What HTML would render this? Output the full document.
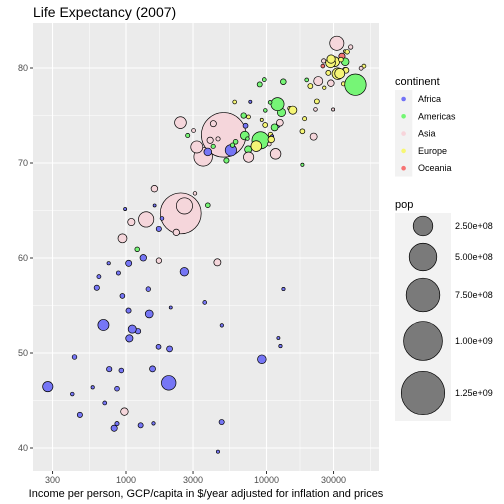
<!DOCTYPE html>
<html><head><meta charset="utf-8"><style>
html,body{margin:0;padding:0;background:#fff}
svg{display:block;font-family:"Liberation Sans",Arial,sans-serif}
</style></head><body>
<svg id="chart" width="504" height="504" viewBox="0 0 504 504">
<text x="33" y="17" font-size="14" fill="#000">Life Expectancy (2007)</text>
<rect x="33" y="23" width="346" height="448" fill="#ebebeb"/>
<g id="grid"></g>
<g id="points"></g>
<g id="axes"></g>
<text x="206" y="497" font-size="11" text-anchor="middle" fill="#000">Income per person, GCP/capita in $/year adjusted for inflation and prices</text>
<g id="legend"></g>
</svg>
<script>
// alphabetical country order; continent codes: 0 Africa,1 Americas,2 Asia,3 Europe,4 Oceania
const continent=[2,3,0,0,1,4,3,2,2,3,
0,1,3,0,1,3,0,0,2,0,
1,0,0,1,2,1,0,0,0,1,
0,3,1,3,3,0,1,1,0,1,
0,0,0,3,3,0,0,3,0,3,
1,0,0,1,1,2,3,3,2,2,
2,2,3,2,3,1,2,2,0,2,
2,2,2,0,0,0,0,0,2,0,
0,0,1,2,3,0,0,2,0,2,
3,4,1,0,0,3,2,2,1,1,
1,2,3,3,1,0,3,0,0,2,
0,3,0,2,3,3,0,0,3,2,
0,0,3,3,2,2,0,2,0,1,
0,3,0,3,1,1,1,2,2,2,
0,0];
const gdp=[974.58,5937.03,6223.37,4797.23,12779.38,34435.37,36126.49,29796.05,1391.25,33692.61,1441.28,3822.14,7446.30,12569.85,9065.80,10680.79,1217.03,430.07,1713.78,2042.10,36319.24,706.02,1704.06,13171.64,4959.11,7006.58,986.15,277.55,3632.56,9645.06,1544.75,14619.22,8948.10,22833.31,35278.42,2082.48,6025.37,6873.26,5581.18,5728.35,12154.09,641.37,690.81,33207.08,30470.02,13206.48,752.75,32170.37,1327.61,27538.41,5186.05,942.65,579.23,1201.64,3548.33,39724.98,18008.94,36180.79,2452.21,3540.65,11605.71,4471.06,40675.99,25523.28,28569.72,7320.88,31656.07,4519.46,1463.25,1593.07,23348.14,47306.99,10461.06,1569.33,414.51,12057.50,1044.77,759.35,12451.66,1042.58,1803.15,10956.99,11977.57,3095.77,9253.90,3820.18,823.69,944.00,4811.06,1091.36,36797.93,25185.01,2749.32,619.68,2013.98,49357.19,22316.19,2605.95,9809.19,4172.84,7408.91,3190.48,15389.92,20509.65,19328.71,7670.12,10808.48,863.09,1598.44,21654.83,1712.47,9786.53,862.54,47143.18,18678.31,25768.26,926.14,9269.66,28821.06,3970.10,2602.39,4513.48,33859.75,37506.42,4184.55,28718.28,1107.48,7458.40,882.97,18008.51,7092.92,8458.28,1056.38,33203.26,42951.65,10611.46,11415.81,2441.58,3025.35,2280.77,1271.21,469.71];
const lifeExp=[43.828,76.423,72.301,42.731,75.320,81.235,79.829,75.635,64.062,79.441,56.728,65.554,74.852,50.728,72.390,73.005,52.295,49.580,59.723,50.430,80.653,44.741,50.651,78.553,72.961,72.889,65.152,46.462,55.322,78.782,48.328,75.748,78.273,76.486,78.332,54.791,72.235,74.994,71.338,71.878,51.579,58.040,52.947,79.313,80.657,56.735,59.448,79.406,60.022,79.483,70.259,56.007,46.388,60.916,70.198,82.208,73.338,81.757,64.698,70.650,70.964,59.545,78.885,80.745,80.546,72.567,82.603,72.535,54.110,67.297,78.623,77.588,71.993,42.592,45.678,73.952,59.443,48.303,74.241,54.467,64.164,72.801,76.195,66.803,74.543,71.164,42.082,62.069,52.906,63.785,79.762,80.204,72.899,56.867,46.859,80.196,75.640,65.483,75.537,71.752,71.421,71.688,75.563,78.098,78.746,76.442,72.476,46.242,65.528,72.777,63.062,74.002,42.568,79.972,74.663,77.926,48.159,49.339,80.941,72.396,58.556,39.613,80.884,81.701,74.143,78.400,52.517,70.616,58.420,69.819,73.923,71.777,51.542,79.425,78.242,76.384,73.747,74.249,73.422,62.698,42.384,43.487];
const popM=[31.9,3.6,33.3,12.4,40.3,20.4,8.2,0.71,150,10.4,8.08,9.1,4.55,1.64,190,7.3,14.3,8.39,14.1,17.7,33.4,4.37,10.2,16.3,1318.7,44.2,0.71,64.6,3.8,4.1,18.0,4.5,11.4,10.2,5.5,0.5,9.3,13.8,80.3,6.9,0.55,4.9,76.5,5.2,61.1,1.45,1.69,82.4,22.9,10.7,12.6,9.9,1.47,8.5,7.5,6.98,9.96,0.3,1110,223.5,69.5,27.5,4.1,6.4,58.1,2.8,127.5,6.05,35.6,23.3,49.0,2.5,3.9,2.0,3.19,6.0,19.2,13.3,24.8,12.0,3.27,1.25,108.7,2.87,0.68,33.8,19.95,47.8,2.06,28.9,16.6,4.1,5.7,12.9,135,4.6,3.2,169.3,3.2,6.7,28.7,91.1,38.5,10.6,3.9,0.8,22.3,8.86,0.2,27.6,12.3,10.2,6.14,4.55,5.4,2.0,9.1,44.0,40.4,20.4,42.3,1.13,9.0,7.55,19.3,23.2,38.1,65.1,5.7,1.06,10.3,71.2,29.2,60.8,301,3.4,26.1,85.3,4.0,22.2,11.7,12.3];
const continentNames=["Africa","Americas","Asia","Europe","Oceania"];
const xTicks=[300,1000,3000,10000,30000];
const xMinor=[547.7,1732,5477,17320,54772];
const yTicks=[40,50,60,70,80];
const yMinor=[45,55,65,75];
const sizeBreaks=[2.5e8,5e8,7.5e8,1e9,1.25e9];
const sizeLabels=["2.50e+08","5.00e+08","7.50e+08","1.00e+09","1.25e+09"];

const NS="http://www.w3.org/2000/svg";
const fills=["#7676f5","#76f576","#f5d6db","#f5f576","#f57676"];
const keyFills=["#7373f7","#73f773","#f7d4da","#f7f773","#f77373"];
const X=v=>126+140.5*Math.log10(v/1000);
const Y=v=>68+(80-v)*9.5;
const R=p=>Math.sqrt(2.25+(21.7*21.7-2.25)*p/1.25e9);
function mk(tag,attrs,parent){const e=document.createElementNS(NS,tag);for(const k in attrs)e.setAttribute(k,attrs[k]);parent.appendChild(e);return e;}
const grid=document.getElementById('grid'),axes=document.getElementById('axes'),pts=document.getElementById('points'),leg=document.getElementById('legend');
xMinor.forEach(v=>{const l=mk('line',{x1:X(v),x2:X(v),y1:23,y2:471,stroke:'#fff','stroke-width':0.5},grid);

});
yMinor.forEach(v=>{const l=mk('line',{x1:33,x2:379,y1:Y(v),y2:Y(v),stroke:'#fff','stroke-width':0.5},grid);

});
xTicks.forEach((v,i)=>{const l=mk('line',{x1:X(v),x2:X(v),y1:23,y2:471,stroke:'#fff','stroke-width':1.1},grid);


const t=mk('line',{x1:X(v),x2:X(v),y1:471,y2:474,stroke:'#333','stroke-width':1},axes);


const tx=mk('text',{x:X(v),y:483,'font-size':9,'text-anchor':'middle',fill:'#4d4d4d'},axes);tx.textContent=String(v);

});
yTicks.forEach(v=>{const l=mk('line',{x1:33,x2:379,y1:Y(v),y2:Y(v),stroke:'#fff','stroke-width':1.1},grid);


const t=mk('line',{x1:30,x2:33,y1:Y(v),y2:Y(v),stroke:'#333','stroke-width':1},axes);


const tx=mk('text',{x:28,y:Y(v)+3.2,'font-size':9,'text-anchor':'end',fill:'#4d4d4d'},axes);tx.textContent=String(v);

});
gdp.forEach((g,i)=>{const c=mk('circle',{cx:X(g),cy:Y(lifeExp[i]),r:R(popM[i]*1e6),fill:fills[continent[i]],stroke:'#000','stroke-width':0.7},pts);

});
// legend
let t=mk('text',{x:395,y:85,'font-size':11,fill:'#000'},leg);t.textContent='continent';


let b=mk('rect',{x:395,y:90,width:17.3,height:86.5,fill:'#f2f2f2'},leg);


continentNames.forEach((n,i)=>{const cy=99+i*17.3;
const d=mk('circle',{cx:403.6,cy:cy,r:2.3,fill:keyFills[i]},leg);


const tx=mk('text',{x:418,y:cy+3,'font-size':9,fill:'#000'},leg);tx.textContent=n;

});
t=mk('text',{x:395,y:208,'font-size':11,fill:'#000'},leg);t.textContent='pop';


b=mk('rect',{x:395,y:213,width:56,height:208,fill:'#f2f2f2'},leg);


const sizeY=[226,257,295,341,393];
sizeBreaks.forEach((s,i)=>{const c=mk('circle',{cx:423,cy:sizeY[i],r:R(s),fill:'#7a7a7a',stroke:'#000','stroke-width':0.7},leg);


const tx=mk('text',{x:455,y:sizeY[i]+3,'font-size':9,fill:'#000'},leg);tx.textContent=sizeLabels[i];

});
</script>
</body></html>
